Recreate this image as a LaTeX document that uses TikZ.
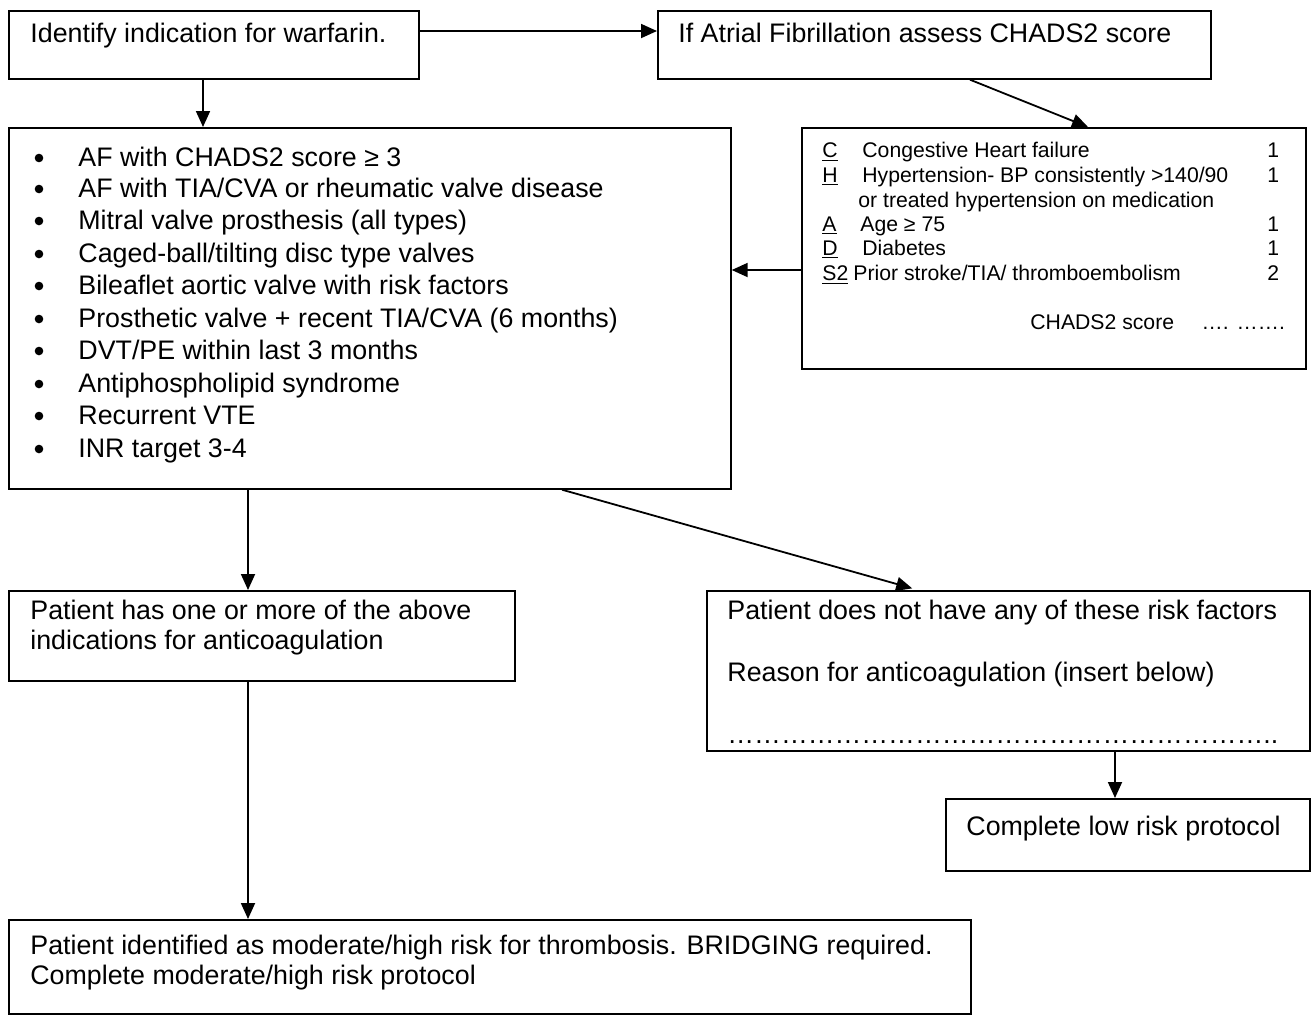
\documentclass[tikz,border=0pt]{standalone}
\usepackage{fontspec}
\setmainfont{Liberation Sans}
\usetikzlibrary{arrows.meta}
\newcommand{\myul}[1]{\underline{#1}}
\begin{document}
\begin{tikzpicture}[x=0.5pt,y=-0.5pt,
  box/.style={draw, line width=0.85pt, rectangle, anchor=north west, inner sep=0pt},
  arr/.style={line width=0.9pt, -{Triangle[length=8pt,width=7pt]}},
  bul/.style={circle, fill, inner sep=0pt, minimum size=4.3pt},
  txt/.style={anchor=base west, inner sep=0pt, font=\fontsize{13.4pt}{16pt}\selectfont},
  stxt/.style={anchor=base west, inner sep=0pt, font=\fontsize{10.6pt}{12.3pt}\selectfont}]
\useasboundingbox (0,0) rectangle (1311,1014);
% boxes
\node[box, minimum width=205pt, minimum height=34pt] (b1) at (8,10) {};
\node[box, minimum width=276.5pt, minimum height=34pt] (b2) at (657,10) {};
\node[box, minimum width=361pt, minimum height=180.5pt] (b3) at (8,127) {};
\node[box, minimum width=252pt, minimum height=120.5pt] (b4) at (801,127) {};
\node[box, minimum width=253pt, minimum height=45pt] (b5) at (8,590) {};
\node[box, minimum width=301.5pt, minimum height=80pt] (b6) at (706,590) {};
\node[box, minimum width=182pt, minimum height=36pt] (b7) at (945,798) {};
\node[box, minimum width=481pt, minimum height=47pt] (b8) at (8,919) {};
% texts
\node[txt] (t1) at (30,42) {Identify indication for warfarin.};
\node[txt] (t2) at (678,42) {If Atrial Fibrillation assess CHADS2 score};
\foreach \yy/\tx [count=\i] in {157/{AF with CHADS2 score ≥ 3},
  188/{AF with TIA/CVA or rheumatic valve disease},
  220/{Mitral valve prosthesis (all types)},
  253/{Caged-ball/tilting disc type valves},
  285/{Bileaflet aortic valve with risk factors},
  318/{Prosthetic valve + recent TIA/CVA (6 months)},
  350/{DVT/PE within last 3 months},
  383/{Antiphospholipid syndrome},
  415/{Recurrent VTE},
  448/{INR target 3-4}}{
  \node[bul] (lb\i) at (39,\yy+1) {};
  \node[txt] (lt\i) at (78,\yy+9) {\tx};
}
% CHADS box
\node[stxt] (c1) at (822,157) {\myul{C}};
\node[stxt] (c1t) at (862,157) {Congestive Heart failure};
\node[stxt] (c1n) at (1267,157) {1};
\node[stxt] (c2) at (822,182) {\myul{H}};
\node[stxt] (c2t) at (862,182) {Hypertension- BP consistently >140/90};
\node[stxt] (c2n) at (1267,182) {1};
\node[stxt] (c3t) at (858,207) {or treated hypertension on medication};
\node[stxt] (c4) at (822,231) {\myul{A}};
\node[stxt] (c4t) at (860,231) {Age ≥ 75};
\node[stxt] (c4n) at (1267,231) {1};
\node[stxt] (c5) at (822,255) {\myul{D}};
\node[stxt] (c5t) at (862,255) {Diabetes};
\node[stxt] (c5n) at (1267,255) {1};
\node[stxt] (c6) at (822,280) {\myul{S2}};
\node[stxt] (c6t) at (853,280) {Prior stroke/TIA/ thromboembolism};
\node[stxt] (c6n) at (1267,280) {2};
\node[stxt] (c7) at (1030,329) {CHADS2 score\hspace{1.3em}…. …….};
% lower boxes
\node[txt] (p1) at (30,619) {Patient has one or more of the above};
\node[txt] (p2) at (30,649) {indications for anticoagulation};
\node[txt] (q1) at (727,619) {Patient does not have any of these risk factors};
\node[txt] (q2) at (727,681) {Reason for anticoagulation (insert below)};
\node[txt] (q3) at (727,743) {……………………………………………………..};
\node[txt] (r1) at (966,835) {Complete low risk protocol};
\node[txt] (m1) at (30,954) {Patient identified as moderate/high risk for thrombosis. BRIDGING required.};
\node[txt] (m2) at (30,984) {Complete moderate/high risk protocol};
% helper coordinates
\coordinate (y31) at (0,31);
\coordinate (x203) at (203,0);
\coordinate (x970) at (970,0);
\coordinate (x1088) at (1088,0);
\coordinate (y270) at (0,270);
\coordinate (x248) at (248,0);
\coordinate (x562) at (562,0);
\coordinate (x918) at (918,0);
\coordinate (x1115) at (1115,0);
% arrows
\draw[arr] (b1.east |- y31) -- (b2.west |- y31);
\draw[arr] (b1.south -| x203) -- (b3.north -| x203);
\draw[arr] (b2.south -| x970) -- (b4.north -| x1088);
\draw[arr] (b4.west |- y270) -- (b3.east |- y270);
\draw[arr] (b3.south -| x248) -- (b5.north -| x248);
\draw[arr, shorten >=3pt] (b3.south -| x562) -- (b6.north -| x918);
\draw[arr] (b6.south -| x1115) -- (b7.north -| x1115);
\draw[arr] (b5.south -| x248) -- (b8.north -| x248);
\end{tikzpicture}
\end{document}
